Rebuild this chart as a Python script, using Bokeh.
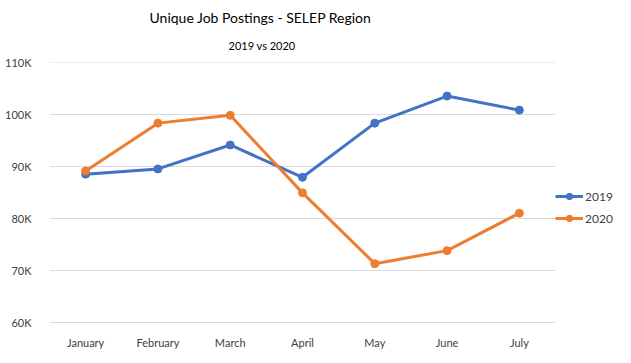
from bokeh.plotting import figure
from bokeh.models import Range1d, FactorRange, Legend, LegendItem, Title, FixedTicker
from bokeh.embed import file_html
from bokeh.resources import INLINE

months = ["January", "February", "March", "April", "May", "June", "July"]
jobs_2019 = [88600, 89600, 94200, 88000, 98400, 103600, 100900]
jobs_2020 = [89200, 98400, 99900, 85000, 71400, 73900, 81100]
y_ticks = [60000, 70000, 80000, 90000, 100000, 110000]
y_tick_labels = ["60K", "70K", "80K", "90K", "100K", "110K"]

BLUE = "#4472C4"
ORANGE = "#ED7D31"
FONT = "Lato"

p = figure(frame_width=506, frame_height=261, x_range=FactorRange(*months, range_padding=0),
           y_range=Range1d(59900, 110050), output_backend="svg", toolbar_location=None,
           min_border_left=49, min_border_right=60, min_border_top=0, min_border_bottom=10)
p.outline_line_color = None

p.title.text = " "
p.title.text_font_size = "3px"
p.title.standoff = 0
# first added title sits nearest the plot frame
p.add_layout(Title(text="2019 vs 2020", align="left", offset=179, standoff=21,
                   text_font=FONT, text_font_size="11px", text_font_style="normal",
                   text_color="#000000"), "above")
p.add_layout(Title(text="Unique Job Postings - SELEP Region", align="left", offset=100,
                   standoff=2, text_font=FONT, text_font_size="14px",
                   text_font_style="normal", text_color="#000000"), "above")

r19 = p.line(months, jobs_2019, line_color=BLUE, line_width=3)
c19 = p.scatter(months, jobs_2019, size=8, fill_color=BLUE, line_color=BLUE)
r20 = p.line(months, jobs_2020, line_color=ORANGE, line_width=3)
c20 = p.scatter(months, jobs_2020, size=8, fill_color=ORANGE, line_color=ORANGE)

for ax in (p.xaxis[0], p.yaxis[0]):
    ax.axis_line_color = None
    ax.major_tick_line_color = None
    ax.minor_tick_line_color = None
    ax.major_label_text_font = FONT
    ax.major_label_text_font_size = "11px"
    ax.major_label_text_color = "#404040"

p.yaxis[0].ticker = FixedTicker(ticks=y_ticks)
p.yaxis[0].major_label_overrides = {t: l for t, l in zip(y_ticks, y_tick_labels)}
p.yaxis[0].major_label_standoff = 12
p.xaxis[0].major_label_standoff = 6

p.xgrid.grid_line_color = None
p.ygrid.grid_line_color = "#D9D9D9"
p.ygrid.grid_line_width = 1
p.ygrid.ticker = FixedTicker(ticks=y_ticks)

legend = Legend(items=[LegendItem(label="2019", renderers=[r19, c19]),
                       LegendItem(label="2020", renderers=[r20, c20])],
                location=(0, 97), orientation="vertical",
                border_line_color=None, background_fill_alpha=0,
                padding=0, margin=0, spacing=6, glyph_width=28, glyph_height=16,
                label_standoff=2, label_text_font=FONT, label_text_font_size="12px",
                label_text_color="#404040")
p.add_layout(legend, "right")

open("out.html", "w").write(file_html(p, INLINE))
